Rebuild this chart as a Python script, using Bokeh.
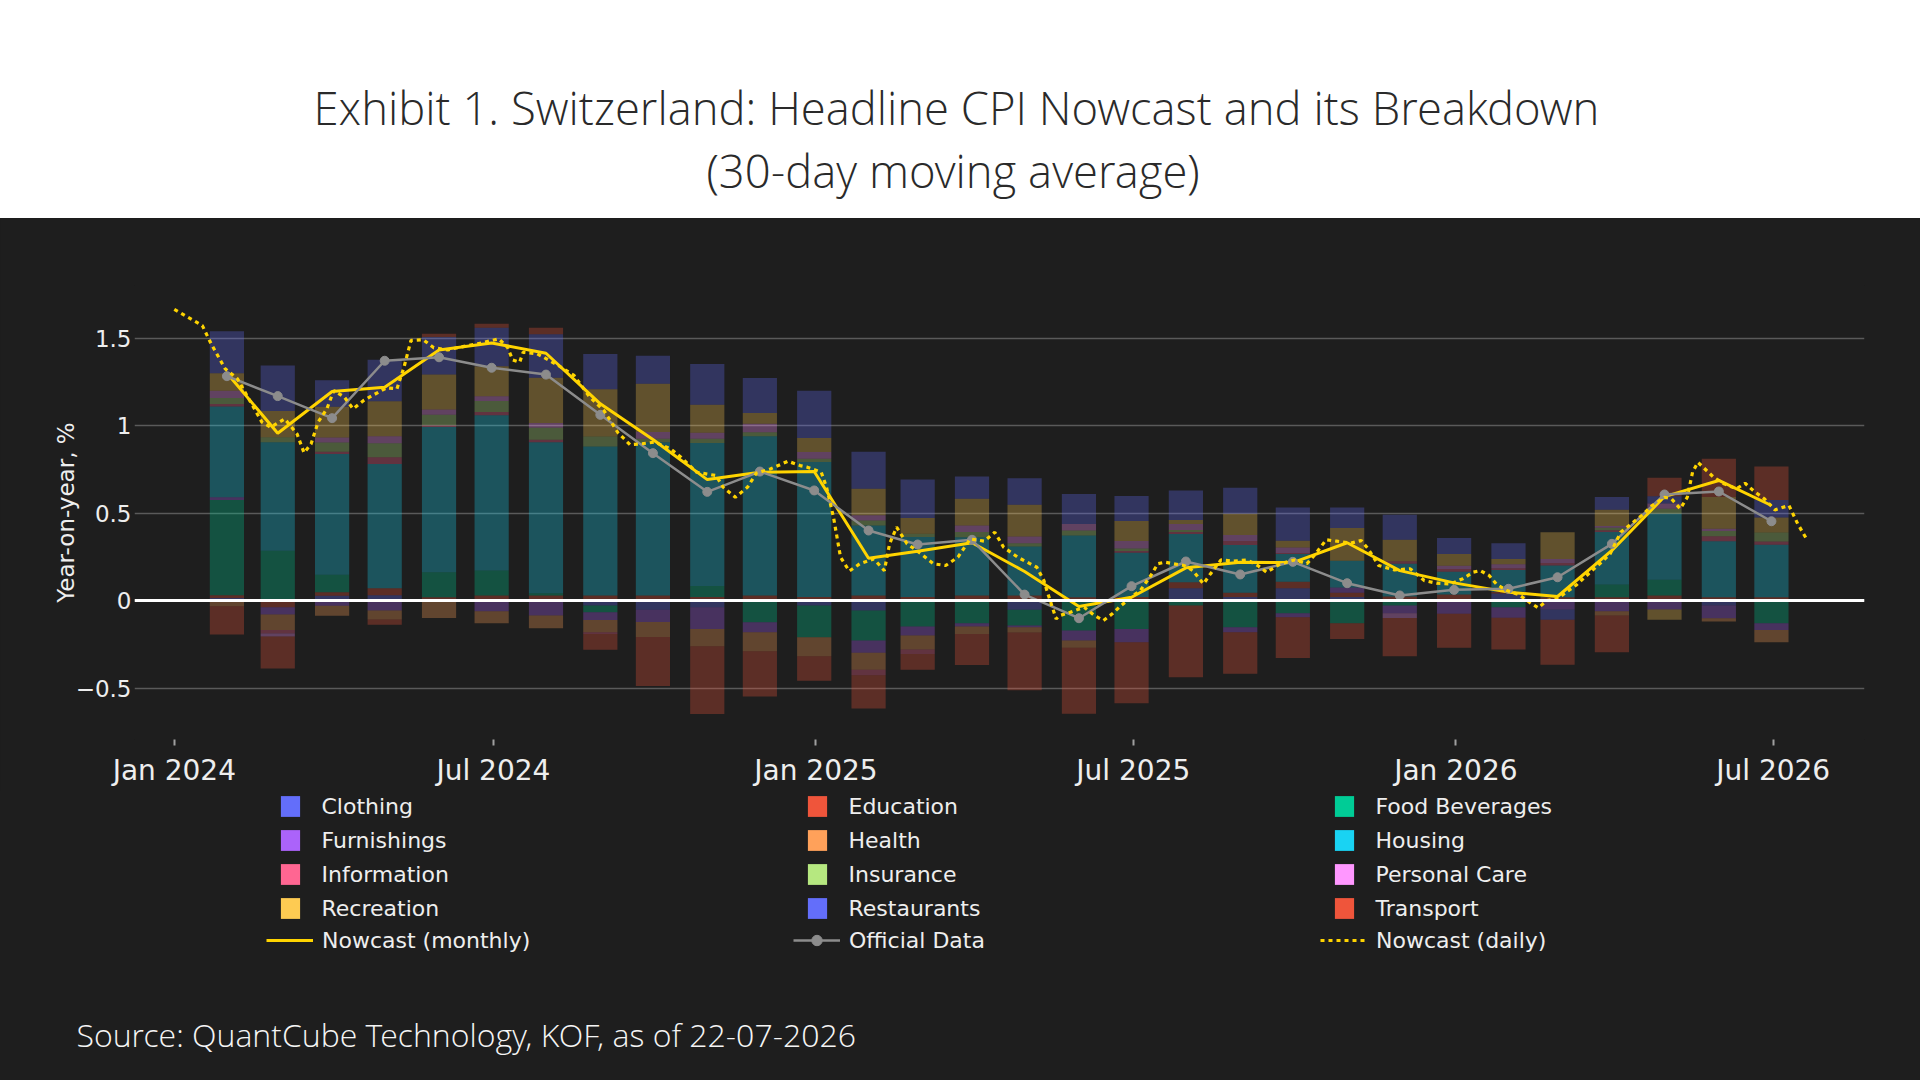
import numpy as np
import pandas as pd
from bokeh.plotting import figure
from bokeh.models import (Range1d, FixedTicker, Span, Legend, LegendItem, ColumnDataSource)
from bokeh.layouts import column
from bokeh.core.properties import value
from bokeh.embed import file_html
from bokeh.resources import INLINE

# ---------------- data ----------------
months = ["2024-01-31", "2024-02-29", "2024-03-31", "2024-04-30", "2024-05-31", "2024-06-30",
          "2024-07-31", "2024-08-31", "2024-09-30", "2024-10-31", "2024-11-30", "2024-12-31",
          "2025-01-31", "2025-02-28", "2025-03-31", "2025-04-30", "2025-05-31", "2025-06-30",
          "2025-07-31", "2025-08-31", "2025-09-30", "2025-10-31", "2025-11-30", "2025-12-31",
          "2026-01-31", "2026-02-28", "2026-03-31", "2026-04-30", "2026-05-31", "2026-06-30"]

categories = ["Clothing", "Education", "Food Beverages", "Furnishings", "Health", "Housing",
              "Information", "Insurance", "Personal Care", "Recreation", "Restaurants", "Transport"]
colors = ["#636EFA", "#EF553B", "#00CC96", "#AB63FA", "#FFA15A", "#19D3F3",
          "#FF6692", "#B6E880", "#FF97FF", "#FECB52", "#636EFA", "#EF553B"]

clothing = [0.015, 0, 0.027, 0.03, 0, 0, 0, -0.029, -0.053, -0.038, 0, -0.029, -0.057, 0, 0,
            -0.053, 0, 0, 0.07, 0.02, 0.07, 0.02, 0, 0, 0.04, 0, 0, 0, -0.029, 0]
education = [0.015, -0.038, 0.02, 0.04, 0.019, 0.029, 0.029, 0.029, 0.029, 0.02, 0.029, 0.02,
             0.029, 0.02, 0.029, 0.029, 0.019, 0.02, 0.034, 0.025, 0.038, 0.025, 0.023, 0.034,
             0.01, 0.019, 0.019, 0.029, 0.019, 0.019]
food_beverages = [0.545, 0.285, 0.1, 0, 0.143, 0.143, 0.013, -0.038, 0, 0.063, -0.124, -0.181,
                  -0.171, -0.149, -0.13, -0.09, -0.171, -0.162, -0.029, -0.152, -0.072, -0.13,
                  -0.029, 0, -0.038, 0, 0.072, 0.09, 0, -0.13]
furnishings = [0.015, -0.042, -0.03, -0.057, 0, -0.061, -0.086, -0.044, -0.07, -0.124, -0.057, 0,
               -0.07, -0.051, -0.019, -0.01, -0.057, -0.076, 0, -0.029, -0.023, 0.03, -0.044,
               -0.076, -0.061, -0.051, -0.061, -0.051, -0.072, -0.038]
health = [-0.032, -0.088, -0.057, -0.051, -0.1, -0.069, -0.072, -0.07, -0.086, -0.099, -0.109,
          -0.109, -0.097, -0.08, -0.042, -0.03, -0.042, 0, 0, 0, 0, 0, 0, 0, 0, 0, -0.025, 0,
          -0.019, -0.07]
housing = [0.518, 0.619, 0.69, 0.71, 0.829, 0.886, 0.863, 0.851, 0.876, 0.817, 0.91, 0.771,
           0.4, 0.343, 0.333, 0.28, 0.352, 0.253, 0.276, 0.272, 0.158, 0.152, 0.187, 0.131,
           0.124, 0.181, 0.3, 0.377, 0.32, 0.3]
information = [0.015, -0.02, 0.013, 0.038, 0.01, 0.019, 0.013, -0.01, 0, 0, 0, 0, -0.032, -0.025,
               0, 0, 0, 0.01, 0.012, 0.023, 0.005, 0, 0.015, 0.015, 0.01, 0.015, 0.01, 0, 0.029,
               0.019]
insurance = [0.034, 0.029, 0.053, 0.08, 0.061, 0.063, 0.069, 0.057, 0.02, 0.025, 0.023, 0.019,
             0.029, 0.019, 0.029, 0.019, 0.029, 0.015, 0.011, 0, 0, 0, 0, 0, 0, 0, 0.015, 0.029,
             0.029, 0.051]
personal_care = [0.042, -0.018, 0.029, 0.04, 0.029, 0.027, 0.027, 0, 0.038, 0.034, 0.048, 0.038,
                 0.029, 0, 0.038, 0.038, 0.038, 0.042, 0.034, 0.034, 0.032, 0, -0.027, 0.019,
                 0.023, 0.023, 0.01, 0.029, 0.013, 0]
recreation = [0.1, 0.15, 0.175, 0.2, 0.2, 0.171, 0.259, 0.27, 0.276, 0.16, 0.061, 0.08, 0.152,
              0.09, 0.152, 0.181, 0, 0.114, 0.023, 0.122, 0.038, 0.187, 0.122, 0.067, 0.03, 0.152,
              0.093, -0.059, 0.181, 0.086]
restaurants = [0.24, 0.26, 0.152, 0.238, 0.215, 0.221, 0.248, 0.202, 0.16, 0.232, 0.2, 0.271,
               0.211, 0.219, 0.128, 0.152, 0.171, 0.143, 0.168, 0.149, 0.19, 0.118, 0.143, 0.091,
               0.09, -0.059, 0.072, 0.042, 0, 0.099]
transport = [-0.162, -0.183, 0, -0.03, 0.019, 0.023, 0.038, -0.09, -0.28, -0.387, -0.259, -0.139,
             -0.19, -0.091, -0.177, -0.33, -0.377, -0.349, -0.41, -0.238, -0.234, -0.09, -0.219,
             -0.194, -0.181, -0.257, -0.21, 0.105, 0.219, 0.192]

nowcast_monthly = [1.30, 0.956, 1.194, 1.219, 1.432, 1.472, 1.413, 1.124, 0.92, 0.691, 0.733,
                   0.737, 0.242, 0.282, 0.33, 0.166, -0.034, 0.019, 0.187, 0.219, 0.217, 0.33,
                   0.171, 0.101, 0.048, 0.023, 0.286, 0.594, 0.686, 0.543]
official_data = [1.282, 1.168, 1.042, 1.37, 1.39, 1.33, 1.291, 1.061, 0.842, 0.621, 0.737, 0.629,
                 0.4, 0.32, 0.347, 0.034, -0.101, 0.082, 0.223, 0.149, 0.221, 0.099, 0.029,
                 0.061, 0.067, 0.133, 0.324, 0.606, 0.623, 0.453]

daily_dates = ["2024-01-01", "2024-01-17", "2024-01-22", "2024-01-30", "2024-02-06", "2024-02-13",
               "2024-02-20", "2024-02-25", "2024-03-04", "2024-03-11", "2024-03-15", "2024-03-19",
               "2024-03-23", "2024-03-28", "2024-04-01", "2024-04-07", "2024-04-12", "2024-04-18",
               "2024-04-24", "2024-05-01", "2024-05-07", "2024-05-11", "2024-05-15", "2024-05-22",
               "2024-05-28", "2024-06-05", "2024-06-12", "2024-06-22", "2024-07-04", "2024-07-09",
               "2024-07-12", "2024-07-16", "2024-07-18", "2024-07-26", "2024-08-07", "2024-08-16",
               "2024-08-25", "2024-09-02", "2024-09-10", "2024-09-17", "2024-09-23", "2024-10-01",
               "2024-10-10", "2024-10-16", "2024-10-25", "2024-11-05", "2024-11-09", "2024-11-16",
               "2024-11-23", "2024-11-28", "2024-12-06", "2024-12-16", "2024-12-23", "2024-12-27",
               "2025-01-04", "2025-01-07", "2025-01-11", "2025-01-15", "2025-01-20", "2025-01-26",
               "2025-02-03", "2025-02-09", "2025-02-12", "2025-02-16", "2025-02-22", "2025-03-02",
               "2025-03-09", "2025-03-16", "2025-03-23", "2025-03-30", "2025-04-07", "2025-04-13",
               "2025-04-18", "2025-04-26", "2025-05-07", "2025-05-11", "2025-05-13", "2025-05-18",
               "2025-05-20", "2025-05-26", "2025-06-03", "2025-06-09", "2025-06-14", "2025-06-19",
               "2025-06-24", "2025-07-01", "2025-07-05", "2025-07-11", "2025-07-15", "2025-07-19",
               "2025-07-24", "2025-07-30", "2025-08-04", "2025-08-10", "2025-08-14", "2025-08-20",
               "2025-08-27", "2025-09-04", "2025-09-10", "2025-09-15", "2025-09-23", "2025-10-01",
               "2025-10-08", "2025-10-13", "2025-10-19", "2025-10-25", "2025-11-02", "2025-11-08",
               "2025-11-12", "2025-11-18", "2025-11-27", "2025-12-06", "2025-12-14", "2025-12-21",
               "2025-12-29", "2026-01-05", "2026-01-11", "2026-01-15", "2026-01-20", "2026-01-24",
               "2026-01-30", "2026-02-06", "2026-02-12", "2026-02-17", "2026-02-22", "2026-02-28",
               "2026-03-05", "2026-03-11", "2026-03-18", "2026-03-24", "2026-03-30", "2026-04-05",
               "2026-04-11", "2026-04-17", "2026-04-23", "2026-04-30", "2026-05-04", "2026-05-09",
               "2026-05-13", "2026-05-16", "2026-05-19", "2026-05-22", "2026-05-28", "2026-06-03",
               "2026-06-10", "2026-06-15", "2026-06-20", "2026-06-26", "2026-07-02", "2026-07-10",
               "2026-07-15", "2026-07-20"]
daily_values = [1.663, 1.571, 1.467, 1.324, 1.267, 1.143, 1.019, 0.99, 1.038, 0.952, 0.844, 0.895,
                1.019, 1.095, 1.2, 1.162, 1.095, 1.143, 1.177, 1.215, 1.21, 1.333, 1.486, 1.49,
                1.444, 1.432, 1.448, 1.467, 1.495, 1.448, 1.375, 1.362, 1.419, 1.41, 1.343, 1.286,
                1.162, 1.086, 0.96, 0.89, 0.895, 0.905, 0.867, 0.819, 0.733, 0.714, 0.648, 0.59,
                0.648, 0.728, 0.752, 0.796, 0.771, 0.762, 0.733, 0.648, 0.476, 0.248, 0.168, 0.21,
                0.238, 0.171, 0.324, 0.419, 0.324, 0.267, 0.21, 0.2, 0.248, 0.352, 0.339, 0.39,
                0.305, 0.248, 0.19, 0.114, 0.048, -0.105, -0.086, -0.067, -0.038, -0.086, -0.114,
                -0.076, -0.029, 0.029, 0.057, 0.143, 0.21, 0.219, 0.21, 0.2, 0.171, 0.095, 0.152,
                0.232, 0.225, 0.232, 0.2, 0.162, 0.21, 0.232, 0.21, 0.267, 0.347, 0.339, 0.328,
                0.343, 0.295, 0.2, 0.175, 0.181, 0.114, 0.099, 0.095, 0.125, 0.162, 0.171, 0.143,
                0.095, 0.057, 0.034, -0.01, -0.042, 0.0, 0.01, 0.048, 0.091, 0.156, 0.21, 0.267,
                0.39, 0.438, 0.486, 0.543, 0.59, 0.581, 0.524, 0.59, 0.733, 0.79, 0.762, 0.705,
                0.667, 0.638, 0.67, 0.625, 0.581, 0.518, 0.543, 0.438, 0.352]

y_ticks = [-0.5, 0, 0.5, 1, 1.5]
y_tick_labels = ["\u22120.5", "0", "0.5", "1", "1.5"]
x_tick_dates = ["2024-01-01", "2024-07-01", "2025-01-01", "2025-07-01", "2026-01-01", "2026-07-01"]
x_tick_labels = ["Jan 2024", "Jul 2024", "Jan 2025", "Jul 2025", "Jan 2026", "Jul 2026"]

title_lines = ["Exhibit 1. Switzerland: Headline CPI Nowcast and its Breakdown",
               "(30-day moving average)"]
y_axis_title = "Year-on-year, %"
source_text = "Source: QuantCube Technology, KOF, as of 22-07-2026"

# ---------------- styling ----------------
W = 1920
HEAD_H = 218
MAIN_H = 572
FOOT_H = 290
BG = "#1e1e1e"
TXT = "#eeeeee"
GOLD = "#FFD400"
GREY = "#8c8c8c"
AXIS_FONT = "DejaVu Sans"
LIGHT_FONT = "Open Sans Light, Open Sans"


def blank(height, bg):
    f = figure(width=W, height=height, x_range=Range1d(0, W), y_range=Range1d(height, 0),
               output_backend="svg", toolbar_location=None, min_border=0, title=None,
               x_axis_location=None, y_axis_location=None, frame_align=False,
               background_fill_color=bg, border_fill_color=bg,
               styles={"background-color": bg})
    f.outline_line_color = None
    f.grid.visible = False
    return f


# ---------------- header ----------------
head = blank(HEAD_H, "white")
head.text(x=[313, 706], y=[106, 169], text=title_lines,
          text_font=value(LIGHT_FONT), text_font_size="45.4px",
          text_align="left", text_baseline="alphabetic", text_color="#2a2a2a")

# ---------------- main chart ----------------
month_ts = pd.to_datetime(months)
p = figure(width=W, height=MAIN_H, x_axis_type="datetime", title=None,
           x_range=Range1d(pd.Timestamp("2023-12-09 07:00"), pd.Timestamp("2026-08-22 02:00")),
           y_range=Range1d(-0.794, 1.80),
           output_backend="svg", toolbar_location=None, frame_align=False,
           background_fill_color=BG, border_fill_color=BG,
           styles={"background-color": BG},
           min_border_left=134, min_border_right=56, min_border_top=67, min_border_bottom=51)
p.outline_line_color = None

series = [clothing, education, food_beverages, furnishings, health, housing,
          information, insurance, personal_care, recreation, restaurants, transport]
bar_width = 19.5 * 24 * 3600 * 1000
pos_base = np.zeros(len(months))
neg_base = np.zeros(len(months))
sources = []
for name, col, vals in zip(categories, colors, series):
    v = np.array(vals, dtype=float)
    bottom = np.where(v >= 0, pos_base, neg_base + v)
    top = np.where(v >= 0, pos_base + v, neg_base)
    pos_base = pos_base + np.where(v >= 0, v, 0)
    neg_base = neg_base + np.where(v < 0, v, 0)
    src = ColumnDataSource(dict(x=month_ts, bottom=bottom, top=top))
    sources.append(src)
    p.vbar(x="x", bottom="bottom", top="top", width=bar_width, source=src,
           fill_color=col, fill_alpha=0.3, line_color=None)

p.add_layout(Span(location=0, dimension="width", line_color="white", line_width=3))

p.line(month_ts, nowcast_monthly, line_color=GOLD, line_width=3)
p.line(month_ts, official_data, line_color=GREY, line_width=2.5)
p.scatter(month_ts, official_data, size=9, fill_color=GREY, line_color=GREY)
p.line(pd.to_datetime(daily_dates), daily_values, line_color=GOLD, line_width=3.2,
       line_dash="4 4")

# axes
p.xgrid.grid_line_color = None
p.ygrid.ticker = FixedTicker(ticks=y_ticks)
p.ygrid.grid_line_color = "#5a5a5a"
p.ygrid.grid_line_width = 1.5

p.yaxis.ticker = FixedTicker(ticks=y_ticks)
p.yaxis.major_label_overrides = {float(t): l for t, l in zip(y_ticks, y_tick_labels)}
p.yaxis.axis_line_color = None
p.yaxis.major_tick_line_color = None
p.yaxis.minor_tick_line_color = None
p.yaxis.major_tick_out = 0
p.yaxis.major_tick_in = 0
p.yaxis.major_label_standoff = 3
p.yaxis.major_label_text_font = AXIS_FONT
p.yaxis.major_label_text_font_size = "23px"
p.yaxis.major_label_text_color = TXT
p.yaxis.axis_label = y_axis_title
p.yaxis.axis_label_text_font = AXIS_FONT
p.yaxis.axis_label_text_font_size = "23px"
p.yaxis.axis_label_text_font_style = "normal"
p.yaxis.axis_label_text_color = TXT
p.yaxis.axis_label_standoff = -6

x_tick_ms = [float(pd.Timestamp(d).value // 10**6) for d in x_tick_dates]
p.xaxis.ticker = FixedTicker(ticks=x_tick_ms)
p.xaxis.major_label_overrides = {t: l for t, l in zip(x_tick_ms, x_tick_labels)}
p.xaxis.axis_line_color = None
p.xaxis.minor_tick_line_color = None
p.xaxis.major_tick_line_color = "#a0a0a0"
p.xaxis.major_tick_line_width = 2
p.xaxis.major_tick_out = 6
p.xaxis.major_tick_in = 0
p.xaxis.major_label_standoff = 8
p.xaxis.major_label_text_font = AXIS_FONT
p.xaxis.major_label_text_font_size = "28px"
p.xaxis.major_label_text_color = TXT

# ---------------- footer: legend and source ----------------
foot = blank(FOOT_H, BG)
bar_proxies = []
for col, src in zip(colors, sources):
    r = foot.vbar(x="x", bottom="bottom", top="top", width=bar_width, source=src,
                  fill_color=col, fill_alpha=1.0, line_color=None)
    r.visible = False
    bar_proxies.append(r)
lp_monthly = foot.line(month_ts, nowcast_monthly, line_color=GOLD, line_width=3, visible=False)
lp_off_line = foot.line(month_ts, official_data, line_color=GREY, line_width=2.5, visible=False)
lp_off_pts = foot.scatter(month_ts, official_data, size=9, fill_color=GREY, line_color=GREY,
                          visible=False)
lp_daily = foot.line(pd.to_datetime(daily_dates), daily_values, line_color=GOLD, line_width=3.2,
                     line_dash="4 4", visible=False)

common = dict(orientation="horizontal", ncols=3, padding=0, margin=0, spacing=8,
              border_line_color=None, background_fill_alpha=0,
              label_text_font=AXIS_FONT, label_text_font_size="22px", label_text_color=TXT,
              glyph_height=26, label_height=26)
leg_bars = Legend(items=[LegendItem(label=n, renderers=[r]) for n, r in zip(categories, bar_proxies)],
                  location=(277.5, 159), glyph_width=24, label_standoff=20, label_width=475,
                  **common)
leg_lines = Legend(items=[LegendItem(label="Nowcast (monthly)", renderers=[lp_monthly]),
                          LegendItem(label="Official Data", renderers=[lp_off_line, lp_off_pts]),
                          LegendItem(label="Nowcast (daily)", renderers=[lp_daily])],
                   location=(266, 127), glyph_width=47, label_standoff=9, label_width=463,
                   **common)
foot.add_layout(leg_bars)
foot.add_layout(leg_lines)

foot.text(x=[76], y=[244], text=[source_text], text_font=value(LIGHT_FONT),
          text_font_size="32px", text_color="#f5f5f5", text_align="left",
          text_baseline="alphabetic")

layout = column(head, p, foot, spacing=0, styles={"background-color": BG})
open("out.html", "w").write(file_html(layout, INLINE))
